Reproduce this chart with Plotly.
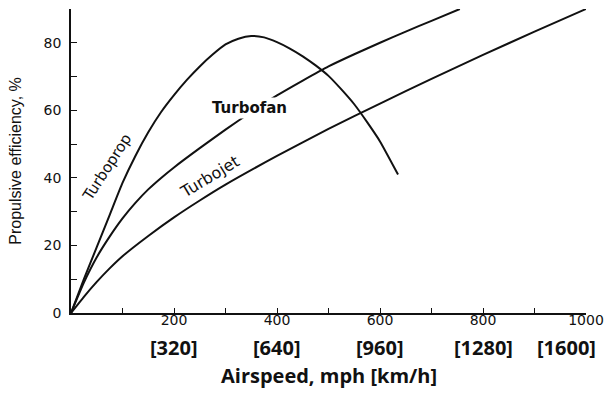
import plotly.graph_objects as go

# ─── Data ───────────────────────────────────────────────────────────
TURBOPROP_MPH = [0, 25, 50, 75, 100, 125, 150, 175, 200, 225, 250, 275, 300,
                 325, 350, 375, 400, 425, 450, 475, 500, 525, 550, 575, 600, 635]
TURBOPROP_EFF = [0, 10, 19.5, 29, 38.5, 46.5, 53.5, 59.5, 64.5, 69, 73, 76.5, 79.5,
                 81.2, 82, 81.6, 80.2, 78.3, 76, 73.3, 70.2, 66.2, 61.8, 56.5, 50.8, 41]

TURBOFAN_MPH = [0, 25, 50, 75, 100, 125, 150, 175, 200, 250, 300, 350, 400,
                450, 500, 550, 600, 650, 700, 755]
TURBOFAN_EFF = [0, 9, 16.5, 22.6, 28, 32.6, 36.6, 40, 43.1, 48.8, 54.3, 59.5, 64.4,
                68.8, 73, 76.6, 80, 83.3, 86.5, 90]

TURBOJET_MPH = [0, 25, 50, 75, 100, 150, 200, 250, 300, 400, 500, 600, 700, 800, 900, 1000]
TURBOJET_EFF = [0, 4.8, 9.2, 13.2, 16.8, 22.8, 28.3, 33.3, 38, 46.5, 54.5, 62, 69.3,
                76.4, 83.3, 90]

X_TICKS = [0, 100, 200, 300, 400, 500, 600, 700, 800, 900, 1000]
X_TICK_TEXT = ["", "", "200", "", "400", "", "600", "", "800", "", "1000"]
Y_TICKS = [0, 10, 20, 30, 40, 50, 60, 70, 80, 90]
Y_TICK_TEXT = ["0", "", "20", "", "40", "", "60", "", "80", ""]

KMH_AT_MPH = [200, 400, 600, 800, 1000]
KMH_LABELS = ["[320]", "[640]", "[960]", "[1280]", "[1600]"]

INK = "#111111"
TICK_FONT = dict(family="DejaVu Sans, Verdana, sans-serif", size=14, color=INK)
KMH_FONT = dict(family="Open Sans, Lato, sans-serif", size=20, color=INK, weight="bold")

fig = go.Figure()

for xs, ys in [(TURBOPROP_MPH, TURBOPROP_EFF),
               (TURBOFAN_MPH, TURBOFAN_EFF),
               (TURBOJET_MPH, TURBOJET_EFF)]:
    fig.add_trace(go.Scatter(
        x=xs, y=ys, mode="lines",
        line=dict(color=INK, width=2, shape="spline", smoothing=0.5),
        hoverinfo="skip", showlegend=False,
    ))

# curve labels
fig.add_annotation(x=69, y=43, text="Turboprop", textangle=-57, showarrow=False,
                   font=dict(family="DejaVu Sans, sans-serif", size=15, color=INK))
fig.add_annotation(x=346, y=60.7, text="Turbofan", showarrow=False,
                   bgcolor="white", borderpad=1,
                   font=dict(family="DejaVu Sans, sans-serif", size=15, color=INK,
                             weight="bold"))
fig.add_annotation(x=270, y=40.3, text="Turbojet", textangle=-31, showarrow=False,
                   font=dict(family="DejaVu Sans, sans-serif", size=16, color=INK))

# second row of x labels: km/h
for i, (mph, lab) in enumerate(zip(KMH_AT_MPH, KMH_LABELS)):
    last = i == len(KMH_LABELS) - 1
    fig.add_annotation(
        x=mph, xref="x", y=-0.115, yref="paper", yanchor="middle",
        xanchor="right" if last else "center", xshift=12 if last else 0,
        text=lab, showarrow=False, font=KMH_FONT,
    )

fig.add_annotation(
    x=500, xref="x", y=-0.205, yref="paper", yanchor="middle", xanchor="center",
    text="Airspeed, mph [km/h]", showarrow=False, font=KMH_FONT,
)

fig.update_layout(
    width=606, height=393,
    paper_bgcolor="white", plot_bgcolor="white",
    margin=dict(l=71, r=20, t=9, b=80),
    showlegend=False,
    xaxis=dict(
        range=[0, 1000], tickvals=X_TICKS, ticktext=X_TICK_TEXT,
        ticks="inside", ticklen=5, tickcolor=INK, tickwidth=1,
        showline=True, linecolor=INK, linewidth=1.5,
        showgrid=False, zeroline=False, tickfont=TICK_FONT,
        ticklabelstandoff=-7, automargin=False,
    ),
    yaxis=dict(
        range=[0, 90], tickvals=Y_TICKS, ticktext=Y_TICK_TEXT,
        ticks="inside", ticklen=6, tickcolor=INK, tickwidth=1,
        showline=True, linecolor=INK, linewidth=1.5,
        showgrid=False, zeroline=False, tickfont=TICK_FONT,
        ticklabelstandoff=5, automargin=False,
        title=dict(text="Propulsive efficiency, %", standoff=18,
                   font=dict(family="Liberation Sans, Arial, sans-serif",
                             size=16, color=INK)),
    ),
)

# drop the default 8px body margin so the figure fills the window exactly
fig.write_html(
    "out.html",
    config={"displayModeBar": False},
    post_script="document.body.style.margin = '0';",
)
